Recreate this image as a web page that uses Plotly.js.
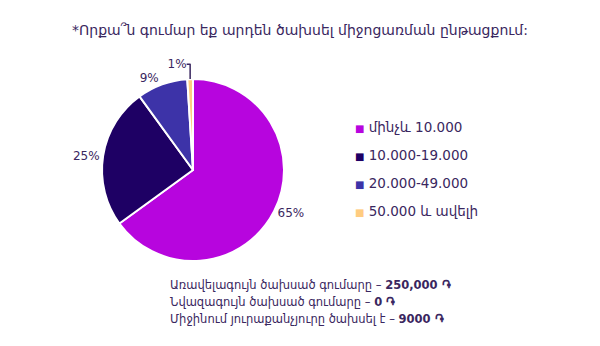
<!DOCTYPE html>
<html>
<head>
<meta charset="utf-8">
<script src="https://cdn.plot.ly/plotly-3.0.1.min.js"></script>
<style>html,body{margin:0;padding:0;background:#fff;}#chart{width:600px;height:346px;}</style>
</head>
<body>
<div id="chart"></div>
<script>
var categories = ["մինչև 10.000", "10.000-19.000", "20.000-49.000", "50.000 և ավելի"];
var shares = [65, 25, 9, 1];
var sliceColors = ["#B705DE", "#1E0064", "#3D33A8", "#FFCC80"];
var titleText = "*Որքա՞ն գումար եք արդեն ծախսել միջոցառման ընթացքում:";
var noteLabels = ["Առավելագույն ծախսած գումարը – ", "Նվազագույն ծախսած գումարը – ", "Միջինում յուրաքանչյուրը ծախսել է – "];
var noteValues = ["250,000 ֏", "0 ֏", "9000 ֏"];

var textColor = "#3A2760";
var fontFam = "'DejaVu Sans', 'Noto Sans', sans-serif";

var annotations = [];
categories.forEach(function (c, i) {
  annotations.push({
    xref: "paper", yref: "paper", x: 353 / 600, y: 1 - (127 + i * 28) / 346,
    xanchor: "left", yanchor: "middle", showarrow: false,
    text: '<span style="color:' + sliceColors[i] + ';font-size:10px">■</span> ' + c,
    font: {family: fontFam, size: 13.5, color: textColor}
  });
});
noteLabels.forEach(function (l, i) {
  annotations.push({
    xref: "paper", yref: "paper", x: 168 / 600, y: 1 - (285 + i * 17) / 346,
    xanchor: "left", yanchor: "middle", showarrow: false,
    text: l + "<b>" + noteValues[i] + "</b>",
    font: {family: fontFam, size: 11.5, color: textColor}
  });
});

var data = [{
  type: "pie",
  labels: categories,
  values: shares,
  sort: false,
  direction: "clockwise",
  rotation: 0,
  marker: {colors: sliceColors, line: {color: "#ffffff", width: 2}},
  textinfo: "percent",
  texttemplate: "%{value}%",
  textposition: "outside",
  textfont: {family: fontFam, size: 12, color: textColor},
  domain: {x: [102 / 600, 284 / 600], y: [1 - 261 / 346, 1 - 79 / 346]},
  showlegend: false,
  hoverinfo: "label+percent"
}];

var layout = {
  width: 600, height: 346,
  margin: {l: 0, r: 0, t: 0, b: 0},
  paper_bgcolor: "#ffffff",
  showlegend: false,
  title: {text: titleText, x: 0.5, xanchor: "center", y: 1 - 30 / 346, yanchor: "middle",
          font: {family: fontFam, size: 14, color: textColor}},
  annotations: annotations
};

Plotly.newPlot("chart", data, layout, {displayModeBar: false, staticPlot: true});
</script>
</body>
</html>
